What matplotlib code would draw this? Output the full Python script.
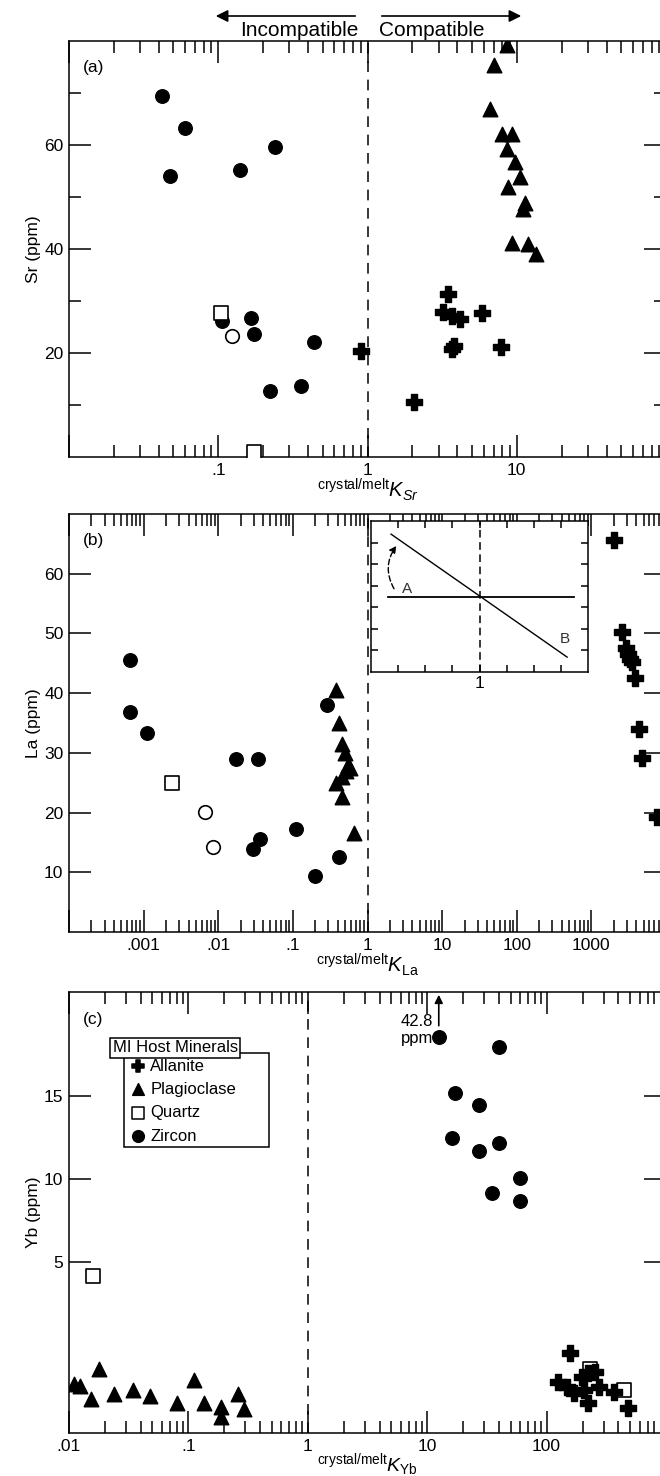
import matplotlib
matplotlib.use("Agg")
import matplotlib.pyplot as plt
from matplotlib.patches import FancyArrowPatch
from matplotlib.ticker import FixedLocator, FixedFormatter, LogLocator, NullFormatter

plt.rcParams['font.family'] = ['Liberation Sans', 'DejaVu Sans']
plt.rcParams['mathtext.fontset'] = 'custom'
plt.rcParams['mathtext.rm'] = 'Liberation Sans'
plt.rcParams['mathtext.it'] = 'Liberation Sans:italic'
plt.rcParams['mathtext.bf'] = 'Liberation Sans:bold'

# ---- (a) Sr ----
a_aln_k = [3.44, 3.19, 3.66, 4.14, 5.82, 3.78, 3.71, 7.81, 0.90, 2.04]
a_aln_y = [31.4, 27.9, 27.2, 26.6, 27.6, 21.4, 20.7, 21.1, 20.3, 10.5]
a_plg_k = [8.57, 7.0, 6.59, 7.93, 9.25, 8.57, 9.7, 10.5, 8.8, 11.3, 11.0, 9.25, 11.9, 13.4]
a_plg_y = [79.2, 75.4, 67.0, 62.2, 62.2, 59.3, 56.8, 53.8, 51.9, 48.8, 47.7, 41.1, 41.0, 39.0]
a_qtz_k = [0.105, 0.174]
a_qtz_y = [27.6, 1.0]
a_ocirc_k = [0.124]
a_ocirc_y = [23.2]
a_zrc_k = [0.042, 0.060, 0.0476, 0.1405, 0.241, 0.106, 0.167, 0.174, 0.44, 0.223, 0.36]
a_zrc_y = [69.5, 63.2, 54.0, 55.1, 59.7, 26.2, 26.8, 23.7, 22.2, 12.6, 13.6]

# ---- (b) La ----
b_aln_k = [2040, 2600, 2900, 3100, 3300, 3500, 3900, 4300, 4700, 7500]
b_aln_y = [65.7, 50.2, 47.5, 46.5, 45.8, 45.2, 42.5, 34.0, 29.2, 19.2]
b_plg_k = [0.38, 0.42, 0.45, 0.50, 0.55, 0.45, 0.38, 0.46, 0.52, 0.58, 0.667]
b_plg_y = [40.5, 35.0, 31.5, 30.0, 28.0, 26.0, 25.0, 22.6, 27.0, 27.5, 16.6]
b_qtz_k = [0.0024]
b_qtz_y = [24.9]
b_ocirc_k = [0.00667, 0.00855]
b_ocirc_y = [20.1, 14.2]
b_zrc_k = [0.00065, 0.00065, 0.0011, 0.0175, 0.0336, 0.288, 0.0288, 0.0358, 0.11, 0.198, 0.418]
b_zrc_y = [45.5, 36.8, 33.3, 29.0, 29.0, 38.0, 13.9, 15.6, 17.2, 9.4, 12.5]

# ---- (c) Yb ----
c_aln_k = [158, 125, 147, 170, 199, 224, 254, 207, 224, 276, 367, 483]
c_aln_y = [-0.5, -2.2, -2.5, -2.9, -1.9, -1.7, -1.6, -2.7, -3.5, -2.5, -2.8, -3.8]
c_plg_k = [0.011, 0.0124, 0.0153, 0.0179, 0.0238, 0.0344, 0.0477, 0.0801, 0.111, 0.135, 0.187, 0.187, 0.26, 0.29]
c_plg_y = [-2.35, -2.47, -3.22, -1.45, -2.95, -2.71, -3.07, -3.49, -2.11, -3.49, -3.73, -4.34, -2.95, -3.86]
c_qtz_k = [0.016, 232, 448]
c_qtz_y = [4.2, -1.45, -2.7]
c_zrc_k = [12.5, 17, 40, 27, 16, 40, 27, 35, 60, 60]
c_zrc_y = [18.6, 15.2, 18.0, 14.5, 12.5, 12.2, 11.7, 9.2, 10.1, 8.7]

# inset sketch
ins_a_x = [0.63, 7.49]
ins_a_y = [3.5, 3.5]
ins_b_x = [0.74, 7.23]
ins_b_y = [6.39, 0.69]


def tick_text(v):
    s = '%g' % v
    if s.startswith('0.'):
        s = s[1:]
    return s


def style_axes(ax, xlim, decades, labeled, ylim, ymaj, ymin):
    ax.set_xscale('log')
    ax.set_xlim(*xlim)
    ax.set_ylim(*ylim)
    ax.xaxis.set_major_locator(FixedLocator(decades))
    ax.xaxis.set_major_formatter(FixedFormatter([tick_text(d) if d in labeled else '' for d in decades]))
    ax.xaxis.set_minor_locator(LogLocator(base=10, subs=range(2, 10), numticks=50))
    ax.xaxis.set_minor_formatter(NullFormatter())
    ax.yaxis.set_major_locator(FixedLocator(ymaj))
    ax.yaxis.set_minor_locator(FixedLocator(ymin))
    ax.tick_params(which='both', direction='in', top=True, right=True, width=1.1, labelsize=12.5)
    ax.tick_params(which='major', length=15.5, pad=4)
    ax.tick_params(which='minor', length=8.5)
    for s in ax.spines.values():
        s.set_linewidth(1.1)
    ax.axvline(1, color='black', lw=1.1, ls=(0, (7, 5)), zorder=1)


def draw_points(ax, aln, plg, qtz, zrc, ocirc=None):
    ax.scatter(zrc[0], zrc[1], marker='o', s=95, c='black', zorder=3)
    ax.scatter(plg[0], plg[1], marker='^', s=110, c='black', zorder=3)
    ax.scatter(qtz[0], qtz[1], marker='s', s=95, facecolors='white', edgecolors='black', linewidths=1.2, zorder=3)
    ax.scatter(aln[0], aln[1], marker='P', s=130, c='black', zorder=4)
    if ocirc is not None:
        ax.scatter(ocirc[0], ocirc[1], marker='o', s=95, facecolors='white', edgecolors='black', linewidths=1.2, zorder=4)


fig = plt.figure(figsize=(6.6, 14.76), dpi=100)
left, width = 69 / 660, 597 / 660

# (a)
ax1 = fig.add_axes([left, 1 - 457 / 1476, width, 416 / 1476])
style_axes(ax1, (0.01, 100), [0.01, 0.1, 1, 10, 100], [0.1, 1, 10], (0, 80), [20, 40, 60], [10, 30, 50, 70])
draw_points(ax1, (a_aln_k, a_aln_y), (a_plg_k, a_plg_y), (a_qtz_k, a_qtz_y), (a_zrc_k, a_zrc_y), (a_ocirc_k, a_ocirc_y))
ax1.set_ylabel('Sr (ppm)', fontsize=12.5, labelpad=2)
ax1.set_xlabel(r'$^{\mathrm{crystal/melt}}K_{Sr}$', fontsize=14.5, labelpad=-1)
ax1.text(0.023, 0.955, '(a)', transform=ax1.transAxes, fontsize=12.5, va='top')

# (b)
ax2 = fig.add_axes([left, 1 - 932 / 1476, width, 418 / 1476])
style_axes(ax2, (1e-4, 1e4), [1e-4, 1e-3, 0.01, 0.1, 1, 10, 100, 1000, 1e4],
           [1e-3, 0.01, 0.1, 1, 10, 100, 1000], (0, 70), [10, 20, 30, 40, 50, 60], [])
draw_points(ax2, (b_aln_k, b_aln_y), (b_plg_k, b_plg_y), (b_qtz_k, b_qtz_y), (b_zrc_k, b_zrc_y), (b_ocirc_k, b_ocirc_y))
ax2.set_ylabel('La (ppm)', fontsize=12.5, labelpad=2)
ax2.set_xlabel(r'$^{\mathrm{crystal/melt}}K_{\mathrm{La}}$', fontsize=14.5, labelpad=-1)
ax2.text(0.023, 0.955, '(b)', transform=ax2.transAxes, fontsize=12.5, va='top')

# inset
axi = fig.add_axes([371 / 660, 1 - 672 / 1476, 217 / 660, 151 / 1476])
axi.set_xlim(0, 8)
axi.set_ylim(0, 7)
axi.xaxis.set_major_locator(FixedLocator([1, 2, 3, 4, 5, 6, 7]))
axi.xaxis.set_major_formatter(FixedFormatter(['', '', '', '1', '', '', '']))
axi.yaxis.set_major_locator(FixedLocator([1, 2, 3, 4, 5, 6]))
axi.yaxis.set_major_formatter(NullFormatter())
axi.tick_params(direction='in', top=True, right=True, length=5, width=1.1, labelsize=12.5, pad=3)
for s in axi.spines.values():
    s.set_linewidth(1.1)
axi.axvline(4, color='black', lw=1.1, ls=(0, (5, 3)))
axi.plot(ins_a_x, ins_a_y, color='black', lw=1.3)
axi.plot(ins_b_x, ins_b_y, color='black', lw=1.0)
axi.text(1.15, 3.65, 'A', fontsize=11, color='#333333')
axi.text(6.95, 1.35, 'B', fontsize=11, color='#333333')
axi.annotate('', xy=(1.0, 5.95), xytext=(0.9, 3.75),
             arrowprops=dict(arrowstyle='-|>', lw=1.0, ls=(0, (4, 2)), color='black',
                             connectionstyle='arc3,rad=-0.35', mutation_scale=10))

# (c)
ax3 = fig.add_axes([left, 1 - 1433 / 1476, width, 441 / 1476])
style_axes(ax3, (0.01, 1000), [0.01, 0.1, 1, 10, 100, 1000], [0.01, 0.1, 1, 10, 100], (-5.3, 21.3), [5, 10, 15], [])
draw_points(ax3, (c_aln_k, c_aln_y), (c_plg_k, c_plg_y), (c_qtz_k, c_qtz_y), (c_zrc_k, c_zrc_y))
ax3.set_ylabel('Yb (ppm)', fontsize=12.5, labelpad=2)
ax3.set_xlabel(r'$^{\mathrm{crystal/melt}}K_{\mathrm{Yb}}$', fontsize=14, labelpad=-2)
ax3.text(0.023, 0.955, '(c)', transform=ax3.transAxes, fontsize=12.5, va='top')
ax3.annotate('', xy=(c_zrc_k[0], 21.3), xytext=(c_zrc_k[0], c_zrc_y[0] + 0.5),
             arrowprops=dict(arrowstyle='-|>', lw=1.2, color='black', mutation_scale=12))
ax3.text(c_zrc_k[0] * 0.9, 19.5, '42.8', fontsize=12, ha='right', va='center')
ax3.text(c_zrc_k[0] * 0.9, 18.5, 'ppm', fontsize=12, ha='right', va='center')

# legend box
ax3.text(0.0733, 0.874, 'MI Host Minerals', transform=ax3.transAxes, fontsize=12, va='center',
         bbox=dict(boxstyle='square,pad=0.15', fc='white', ec='black', lw=1.1))
leg_items = [('P', 'Allanite', 'black'), ('^', 'Plagioclase', 'black'), ('s', 'Quartz', 'white'), ('o', 'Zircon', 'black')]
for i, (m, lab, fc) in enumerate(leg_items):
    yy = 0.832 - i * 0.053
    ax3.scatter([0.115], [yy], transform=ax3.transAxes, marker=m, s=70, facecolors=fc, edgecolors='black',
                linewidths=1.1, zorder=5, clip_on=False)
    ax3.text(0.136, yy, lab, transform=ax3.transAxes, fontsize=12, va='center')
ax3.add_patch(plt.Rectangle((0.092, 0.649), 0.243, 0.212, transform=ax3.transAxes, fill=False, ec='black', lw=1.1))

# top compatibility arrows
fig.text(358 / 660, 1 - 30 / 1476, 'Incompatible', ha='right', va='center', fontsize=15)
fig.text(379 / 660, 1 - 30 / 1476, 'Compatible', ha='left', va='center', fontsize=15)
fig.add_artist(FancyArrowPatch((358 / 660, 1 - 16 / 1476), (213 / 660, 1 - 16 / 1476),
               transform=fig.transFigure, arrowstyle='-|>', mutation_scale=18, lw=1.2, color='black'))
fig.add_artist(FancyArrowPatch((379 / 660, 1 - 16 / 1476), (524 / 660, 1 - 16 / 1476),
               transform=fig.transFigure, arrowstyle='-|>', mutation_scale=18, lw=1.2, color='black'))

fig.savefig('out.png', dpi=100)
